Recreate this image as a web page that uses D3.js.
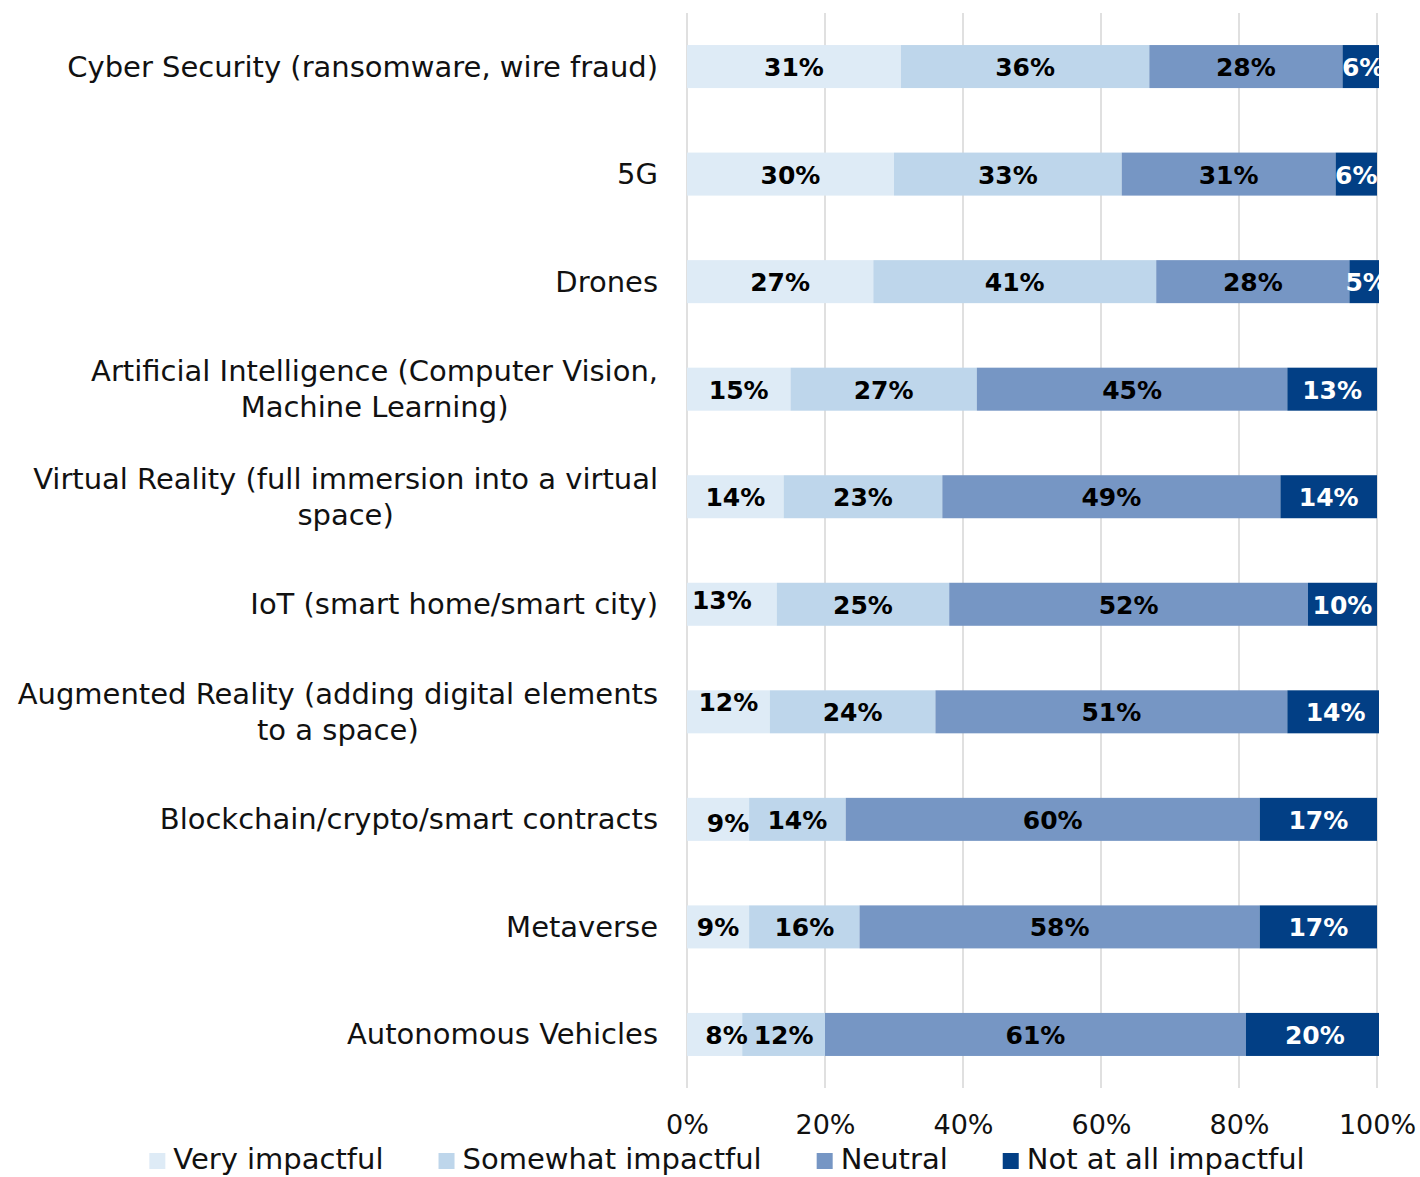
<!DOCTYPE html>
<html>
<head>
<meta charset="utf-8">
<script src="https://cdn.jsdelivr.net/npm/d3@7"></script>
<style>
  body { margin: 0; background: #ffffff; }
  svg text { font-family: "DejaVu Sans", sans-serif; }
</style>
</head>
<body>
<svg id="chart" width="1420" height="1177"></svg>
<script>
// Survey: how impactful each technology is expected to be (share of respondents, %)
const categories = [
  "Cyber Security (ransomware, wire fraud)",
  "5G",
  "Drones",
  "Artificial Intelligence (Computer Vision, Machine Learning)",
  "Virtual Reality (full immersion into a virtual space)",
  "IoT (smart home/smart city)",
  "Augmented Reality (adding digital elements to a space)",
  "Blockchain/crypto/smart contracts",
  "Metaverse",
  "Autonomous Vehicles"
];
const seriesNames = ["Very impactful", "Somewhat impactful", "Neutral", "Not at all impactful"];
const veryImpactful     = [31, 30, 27, 15, 14, 13, 12,  9,  9,  8];
const somewhatImpactful = [36, 33, 41, 27, 23, 25, 24, 14, 16, 12];
const neutral           = [28, 31, 28, 45, 49, 52, 51, 60, 58, 61];
const notAtAllImpactful = [ 6,  6,  5, 13, 14, 10, 14, 17, 17, 20];
const tickValues = [0, 20, 40, 60, 80, 100];

const seriesValues = [veryImpactful, somewhatImpactful, neutral, notAtAllImpactful];
const colors = ["#deebf6", "#bed6eb", "#7696c4", "#023f85"];
const labelColors = ["#000000", "#000000", "#000000", "#ffffff"];

const svg = d3.select("#chart");

const x = d3.scaleLinear().domain([0, 100]).range([687, 1377]);
const y = d3.scaleBand()
  .domain(categories)
  .range([13, 1088])
  .paddingInner(0.6)
  .paddingOuter(0.298);

// Stacked table built from the series arrays
const table = categories.map((c, i) => {
  const row = { category: c };
  seriesNames.forEach((s, k) => { row[s] = seriesValues[k][i]; });
  return row;
});
const stacked = d3.stack().keys(seriesNames)(table);

// Vertical gridlines
svg.append("g")
  .selectAll("line")
  .data(tickValues)
  .join("line")
  .attr("x1", d => x(d)).attr("x2", d => x(d))
  .attr("y1", 13).attr("y2", 1088)
  .attr("stroke", "#d9d9d9")
  .attr("stroke-width", 1.6);

// Plot area clip (rows adding to 101% run slightly past the frame)
svg.append("clipPath").attr("id", "plotClip")
  .append("rect")
  .attr("x", x(0)).attr("y", 0)
  .attr("width", x(100.3) - x(0)).attr("height", 1100);

const plot = svg.append("g").attr("clip-path", "url(#plotClip)");

// Bars
plot.selectAll("g.series")
  .data(stacked)
  .join("g")
  .attr("class", "series")
  .attr("fill", (d, k) => colors[k])
  .selectAll("rect")
  .data(d => d)
  .join("rect")
  .attr("x", d => x(d[0]))
  .attr("y", d => y(d.data.category))
  .attr("width", d => x(d[1]) - x(d[0]))
  .attr("height", y.bandwidth());

// Small-segment labels that sit off-centre so they don't collide
const labelNudge = {
  "5|0": [-10, -5],
  "6|0": [0, -10],
  "7|0": [10, 3],
  "9|0": [12, 0]
};

// Value labels
stacked.forEach((layer, k) => {
  plot.append("g")
    .selectAll("text")
    .data(layer.map((d, i) => ({ d, i })))
    .join("text")
    .attr("x", o => (x(o.d[0]) + x(o.d[1])) / 2 + (labelNudge[o.i + "|" + k] || [0, 0])[0])
    .attr("y", o => y(o.d.data.category) + y.bandwidth() / 2 + 1 + (labelNudge[o.i + "|" + k] || [0, 0])[1])
    .attr("text-anchor", "middle")
    .attr("dominant-baseline", "central")
    .attr("font-size", 25)
    .attr("font-weight", "bold")
    .attr("fill", labelColors[k])
    .text(o => (o.d[1] - o.d[0]) + "%");
});

// Category labels, wrapped and right-aligned as centred blocks
const catFont = 29, lineHeight = 36, wrapWidth = 660, labelRight = 658;
const measure = svg.append("text").attr("font-size", catFont).attr("visibility", "hidden");
function textWidth(s) { measure.text(s); return measure.node().getComputedTextLength(); }
function wrap(s) {
  const words = s.split(" ");
  const lines = [];
  let cur = "";
  words.forEach(w => {
    const t = cur ? cur + " " + w : w;
    if (cur && textWidth(t) > wrapWidth) { lines.push(cur); cur = w; }
    else cur = t;
  });
  lines.push(cur);
  return lines;
}
const catGroup = svg.append("g");
categories.forEach(c => {
  const lines = wrap(c);
  const blockW = d3.max(lines, textWidth);
  const cy = y(c) + y.bandwidth() / 2;
  const t = catGroup.append("text")
    .attr("x", labelRight - blockW / 2)
    .attr("y", cy - (lines.length - 1) / 2 * lineHeight)
    .attr("text-anchor", "middle")
    .attr("dominant-baseline", "central")
    .attr("font-size", catFont)
    .attr("fill", "#111111");
  lines.forEach((ln, j) => {
    t.append("tspan")
      .attr("x", labelRight - blockW / 2)
      .attr("dy", j === 0 ? 0 : lineHeight)
      .text(ln);
  });
});

// X axis (labels only)
const xAxis = d3.axisBottom(x)
  .tickValues(tickValues)
  .tickFormat(d => d + "%")
  .tickSize(0)
  .tickPadding(0);
const axisG = svg.append("g").attr("transform", "translate(0,1115)").call(xAxis);
axisG.select(".domain").remove();
axisG.selectAll("text")
  .attr("font-size", 27)
  .attr("font-family", "DejaVu Sans, sans-serif")
  .attr("fill", "#111111");

// Legend
const legendFont = 29, swatch = 16, swatchGap = 8, itemGap = 55, legendCenter = 727, legendBaseline = 1169;
const itemWidths = seriesNames.map(s => { measure.attr("font-size", legendFont); return swatch + swatchGap + textWidth(s); });
const totalW = d3.sum(itemWidths) + itemGap * (seriesNames.length - 1);
let lx = legendCenter - totalW / 2;
const legend = svg.append("g");
seriesNames.forEach((s, k) => {
  legend.append("rect")
    .attr("x", lx).attr("y", legendBaseline - swatch)
    .attr("width", swatch).attr("height", swatch)
    .attr("fill", colors[k]);
  legend.append("text")
    .attr("x", lx + swatch + swatchGap)
    .attr("y", legendBaseline)
    .attr("font-size", legendFont)
    .attr("fill", "#111111")
    .text(s);
  lx += itemWidths[k] + itemGap;
});
measure.remove();
</script>
</body>
</html>
